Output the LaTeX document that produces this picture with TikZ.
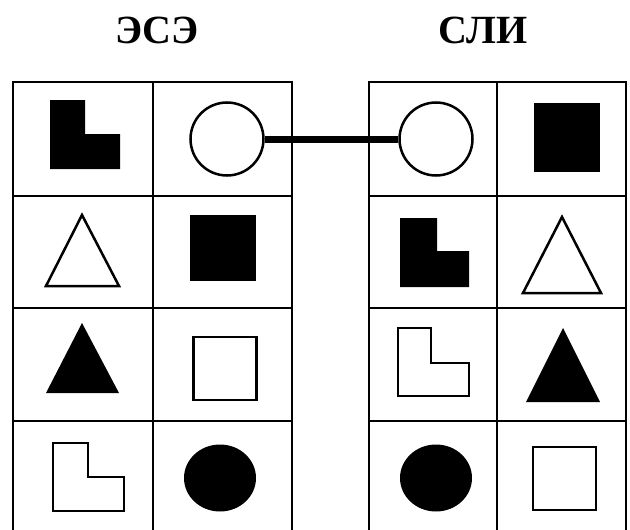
\documentclass[tikz,border=0pt]{standalone}
\usepackage{fontspec}
\setmainfont{Liberation Serif}
\usetikzlibrary{shapes.geometric}
\begin{document}
\begin{tikzpicture}[x=1pt,y=-1pt,
    grid line/.style={draw,line width=2pt},
    title/.style={font=\bfseries\fontsize{40}{40}\selectfont,inner sep=0pt},
    open shape/.style={draw,line width=2.5pt,fill=white},
    full shape/.style={fill=black},
    ring/.style={circle,draw,line width=2.5pt,inner sep=0pt,minimum size=73pt},
    blob/.style={ellipse,fill=black,inner sep=0pt,minimum width=72pt,minimum height=67pt},
    box/.style={rectangle,inner sep=0pt,minimum width=66pt,minimum height=66pt}]
    \useasboundingbox (0,0) rectangle (630,530);
    \clip (0,0) rectangle (630,530);

    % titles
    \node[title] (ese) at (157,30) {ЭСЭ};
    \node[title] (sli) at (483,30) {СЛИ};

    % the two tables
    \path[grid line] (13,82) rectangle (292,540) (153,82) -- (153,540)
        (13,196) -- (292,196) (13,308) -- (292,308) (13,421) -- (292,421);
    \path[grid line] (369,82) rectangle (626,540) (497,82) -- (497,540)
        (369,196) -- (626,196) (369,308) -- (626,308) (369,421) -- (626,421);

    % left table
    \path[full shape] (50,100) -- (85,100) -- (85,134) -- (120,134) -- (120,169) -- (50,169) -- cycle;
    \node[ring] (ering) at (227,139) {};
    \path[open shape] (46,286) -- (82,215) -- (119,286) -- cycle;
    \node[box,full shape] (ebox) at (222.5,248) {};
    \path[full shape] (46,393) -- (82,323) -- (119,393) -- cycle;
    \node[box,open shape,minimum size=63pt] (eopen) at (225,368.5) {};
    \path[open shape] (53,443) -- (88,443) -- (88,477) -- (124,477) -- (124,511) -- (53,511) -- cycle;
    \node[blob] (eblob) at (220,478) {};

    % right table
    \node[ring] (sring) at (436,139) {};
    \node[box,full shape,minimum height=69pt] (sbox) at (566.5,137.5) {};
    \path[full shape] (400,218) -- (437,218) -- (437,251) -- (469,251) -- (469,287) -- (400,287) -- cycle;
    \path[open shape] (523,293) -- (562,217) -- (601,293) -- cycle;
    \path[open shape] (398,328) -- (431,328) -- (431,363) -- (469,363) -- (469,396) -- (398,396) -- cycle;
    \path[full shape] (526,402) -- (563,328) -- (600,402) -- cycle;
    \node[blob] (sblob) at (436,478) {};
    \node[box,open shape,minimum size=63pt] (sopen) at (564.5,478.5) {};

    % connector
    \draw[line width=7pt] (ering) -- (sring);
\end{tikzpicture}
\end{document}
